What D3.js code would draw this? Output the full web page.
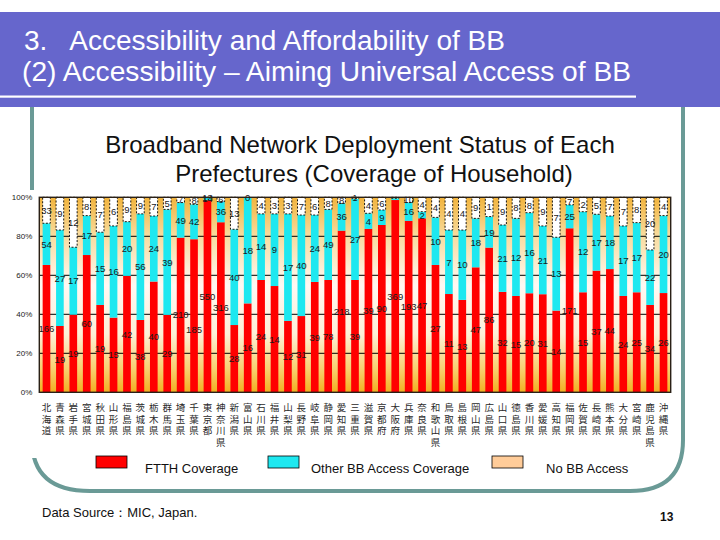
<!DOCTYPE html>
<html><head><meta charset="utf-8">
<script src="https://cdn.jsdelivr.net/npm/d3@7"></script>
<style>html,body{margin:0;padding:0;background:#fff;} svg{display:block;}</style>
</head><body>
<svg id="c" width="720" height="540"></svg>
<script>
const prefectures = ["北海道","青森県","岩手県","宮城県","秋田県","山形県","福島県","茨城県","栃木県","群馬県","埼玉県","千葉県","東京都","神奈川県","新潟県","富山県","石川県","福井県","山梨県","長野県","岐阜県","静岡県","愛知県","三重県","滋賀県","京都府","大阪府","兵庫県","奈良県","和歌山県","鳥取県","島根県","岡山県","広島県","山口県","徳島県","香川県","愛媛県","高知県","福岡県","佐賀県","長崎県","熊本県","大分県","宮崎県","鹿児島県","沖縄県"];
// share of households (%) covered by FTTH
const ftthShare = [65.3,34.0,39.8,70.4,44.8,38.3,59.7,37.1,56.8,39.7,79.3,78.5,98.5,87.2,34.5,45.6,57.6,54.5,36.6,39.1,56.6,57.6,82.9,57.6,83.8,85.8,98.6,87.9,89.2,65.3,50.4,47.4,64.1,74.2,51.5,49.4,50.8,50.3,41.9,84.1,51.3,62.4,63.2,49.4,51.3,44.8,50.9];
// share of households (%) covered by other BB access only
const otherShare = [21.4,49.2,34.6,20.2,37.3,47.0,27.8,54.4,33.6,54.1,18.0,17.9,1.3,10.6,49.1,54.4,33.9,37.0,54.9,51.8,34.3,36.2,14.0,41.7,8.0,7.7,0.9,9.4,3.4,24.4,32.8,35.8,25.1,15.9,34.3,39.8,41.3,35.0,37.6,12.0,41.3,28.9,27.2,35.9,35.7,28.2,39.7];
// printed labels (10,000 households)
const ftthLabels = [166,19,19,60,19,15,42,38,40,29,210,185,550,316,28,16,24,14,12,31,39,78,218,39,39,90,369,193,47,27,11,13,47,86,32,15,20,31,14,171,15,37,44,24,25,34,26];
const otherLabels = [54,27,17,17,15,16,20,56,24,39,49,42,14,36,40,18,14,9,17,40,24,49,36,27,4,9,null,16,2,10,7,10,18,19,21,12,16,21,13,25,12,17,18,17,17,22,20];
const noneLabels = [33,9,12,8,7,6,9,9,7,5,7,8,13,6,13,0,4,3,3,7,6,8,8,1,4,6,null,10,4,4,4,4,9,1,9,8,8,9,7,7,2,5,7,7,8,20,4];
const yTicks = [0,20,40,60,80,100];
const seriesKeys = ["ftth","other","none"];
const seriesNames = ["FTTH Coverage","Other BB Access Coverage","No BB Access"];
const seriesColors = ["#ff0000","#1ee8f0","#ffcc99"];

const svg = d3.select("#c");
const defs = svg.append("defs");
const SANS = "Liberation Sans, Arial, sans-serif";

// ---- slide frame ----
svg.append("rect").attr("x",0).attr("y",12).attr("width",720).attr("height",95).attr("fill","#6666cc");
svg.append("rect").attr("x",0).attr("y",95.5).attr("width",636).attr("height",2.2).attr("fill","#ffffff");
svg.append("text").attr("x",24).attr("y",50).attr("font-family",SANS)
  .attr("font-size",28).attr("fill","#fff").attr("textLength",481).attr("lengthAdjust","spacingAndGlyphs")
  .attr("xml:space","preserve").text("3.   Accessibility and Affordability of BB");
svg.append("text").attr("x",22).attr("y",81).attr("font-family",SANS)
  .attr("font-size",28).attr("fill","#fff").attr("textLength",609).attr("lengthAdjust","spacingAndGlyphs")
  .text("(2) Accessibility \u2013 Aiming Universal Access of BB");

svg.append("path").attr("d","M32,107 L32,440 Q32,491 90,491 L630,491 Q683,491 683,440 L683,107")
  .attr("fill","none").attr("stroke","#6a9a96").attr("stroke-width",4);
svg.append("rect").attr("x",0).attr("y",190).attr("width",677).attr("height",268).attr("fill","#fff");

svg.append("text").attr("x",360).attr("y",153).attr("text-anchor","middle")
  .attr("font-family",SANS).attr("font-size",24).attr("fill","#111")
  .text("Broadband Network Deployment Status of Each");
svg.append("text").attr("x",374).attr("y",182).attr("text-anchor","middle")
  .attr("font-family",SANS).attr("font-size",24).attr("fill","#111")
  .text("Prefectures (Coverage of Household)");

// ---- chart ----
const L = 39.3, R = 670.7, T = 197.3, B = 392.3;
const table = prefectures.map((p,i)=>({name:p, ftth:ftthShare[i], other:otherShare[i], none:Math.max(0,100-ftthShare[i]-otherShare[i])}));
const labelSets = {ftth:ftthLabels, other:otherLabels, none:noneLabels};

const x = d3.scaleBand().domain(prefectures).range([L,R]).paddingInner(0.43).paddingOuter(0.25);
const y = d3.scaleLinear().domain([0,100]).range([B,T]);

const grad = defs.append("linearGradient").attr("id","bg").attr("x1",0).attr("y1",0).attr("x2",0).attr("y2",1);
grad.append("stop").attr("offset","0%").attr("stop-color","#f2b43c");
grad.append("stop").attr("offset","20%").attr("stop-color","#f8dca0");
grad.append("stop").attr("offset","45%").attr("stop-color","#fff8f2");
grad.append("stop").attr("offset","70%").attr("stop-color","#fdf0d8");
grad.append("stop").attr("offset","88%").attr("stop-color","#f8d070");
grad.append("stop").attr("offset","100%").attr("stop-color","#f2b020");
svg.append("rect").attr("x",L).attr("y",T).attr("width",R-L).attr("height",B-T).attr("fill","url(#bg)");

// gridlines
svg.append("g").selectAll("line").data(yTicks.filter(t=>t>0&&t<100)).join("line")
  .attr("x1",L).attr("x2",R).attr("y1",d=>y(d)).attr("y2",d=>y(d)).attr("stroke","#000").attr("stroke-width",1);

const stacked = d3.stack().keys(seriesKeys)(table);
const bars = svg.append("g");
stacked.forEach((s,si)=>{
  const g = bars.append("g");
  g.selectAll("rect").data(s).join("rect")
    .attr("x",d=>x(d.data.name)).attr("width",x.bandwidth())
    .attr("y",d=>y(d[1])).attr("height",d=>Math.max(0,y(d[0])-y(d[1])))
    .attr("fill", si===2 ? "#ffffff" : seriesColors[si])
    .attr("stroke", si===2 ? "#000" : "none")
    .attr("stroke-width", si===2 ? 0.9 : 0)
    .attr("stroke-dasharray", si===2 ? "2,1.6" : null);
});
// value labels (centered in segment; nudged down when colliding with the previous label)
stacked.forEach((s,si)=>{
  const labs = labelSets[s.key];
  const g = svg.append("g");
  let prev = null;
  s.forEach((d,i)=>{
    if (labs[i]===null) { prev = null; return; }
    const cx = x(d.data.name)+x.bandwidth()/2;
    let cy = y((d[0]+d[1])/2);
    const w = String(labs[i]).length*5.3;
    if (prev && Math.abs(cx-prev.cx) < (w+prev.w)/2 && Math.abs(cy-prev.cy) < 10) {
      const down = cy + 14;
      if (down < y(d[0]) - 4) cy = down;
    }
    g.append("text").attr("x",cx).attr("y",cy)
      .attr("text-anchor","middle").attr("dominant-baseline","central")
      .attr("font-family",SANS).attr("font-size",9.5).attr("fill","#1a1a1a")
      .text(labs[i]);
    prev = {cx, cy, w};
  });
});

// frame
svg.append("rect").attr("x",L).attr("y",T).attr("width",R-L).attr("height",B-T)
  .attr("fill","none").attr("stroke","#2a2016").attr("stroke-width",1.4);

// y axis labels
const yAxis = d3.axisLeft(y).tickValues(yTicks).tickFormat(d=>d+"%").tickSize(0).tickPadding(7);
const ya = svg.append("g").attr("transform",`translate(${L},0)`).call(yAxis);
ya.select(".domain").remove();
ya.selectAll("text").attr("font-family",SANS).attr("font-size",8).attr("fill","#222");

// x labels (vertical Japanese)
svg.append("g").selectAll("text").data(prefectures).join("text")
  .attr("x",d=>x(d)+x.bandwidth()/2).attr("y",402.5)
  .style("writing-mode","vertical-rl")
  .attr("font-family","Noto Sans CJK JP, sans-serif").attr("font-size",9.5)
  .attr("letter-spacing",2.2).attr("fill","#2a2a2a")
  .text(d=>d);

// legend
const legX = [96,268,492], legTX = [145,311,546];
seriesNames.forEach((n,i)=>{
  svg.append("rect").attr("x",legX[i]).attr("y",456).attr("width",31).attr("height",12)
    .attr("fill",seriesColors[i]).attr("stroke","#000").attr("stroke-width",0.8);
  svg.append("text").attr("x",legTX[i]).attr("y",473).attr("font-family",SANS)
    .attr("font-size",13).attr("fill","#111").text(n);
});

svg.append("text").attr("x",42).attr("y",517).attr("font-family",SANS)
  .attr("font-size",13).attr("fill","#111").text("Data Source：MIC, Japan.");
svg.append("text").attr("x",660).attr("y",521).attr("font-family",SANS)
  .attr("font-size",12).attr("font-weight","bold").attr("fill","#111").text("13");
</script>
</body></html>
